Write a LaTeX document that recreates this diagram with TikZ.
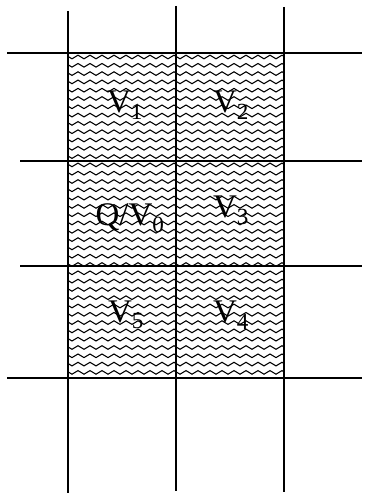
\documentclass[tikz,border=0pt]{standalone}
\usepackage{fontspec}
\setmainfont{Liberation Serif}
\usetikzlibrary{positioning}
\tikzset{
  gridline/.style={line width=1.6pt, black},
  wave/.style={line width=1.1pt, black},
  cellname/.style={font=\fontsize{33}{35}\selectfont, inner sep=0pt}
}

\begin{document}
\begin{tikzpicture}[x=1pt, y=-1pt]
\useasboundingbox (0,0) rectangle (372,494);
% zigzag hatching of the six cells
\begin{scope}
\clip (68,53) rectangle (284,378);
\foreach \yy in {57,65.3,...,382}
  \draw[wave] plot[domain=60:294, samples=40] (\x,{\yy+1.8*cos(30*\x)});
\end{scope}
% grid
\draw[gridline] (68,11) -- (68,493);
\draw[gridline] (176,6) -- (176,491);
\draw[gridline] (284,7) -- (284,492);
\draw[gridline] (7,53) -- (362,53);
\draw[gridline] (20,161) -- (362,161);
\draw[gridline] (20,266) -- (362,266);
\draw[gridline] (7,378) -- (362,378);
% cell names
\node[cellname] (v1) at (125,105) {V\textsubscript{1}};
\node[cellname] (v2) at (231,105) {V\textsubscript{2}};
\node[cellname] (v0) at (130,218) {Q/V\textsubscript{0}};
\node[cellname] (v3) at (231,210) {V\textsubscript{3}};
\node[cellname] (v5) at (126,315) {V\textsubscript{5}};
\node[cellname] (v4) at (231,315) {V\textsubscript{4}};
\end{tikzpicture}
\end{document}
